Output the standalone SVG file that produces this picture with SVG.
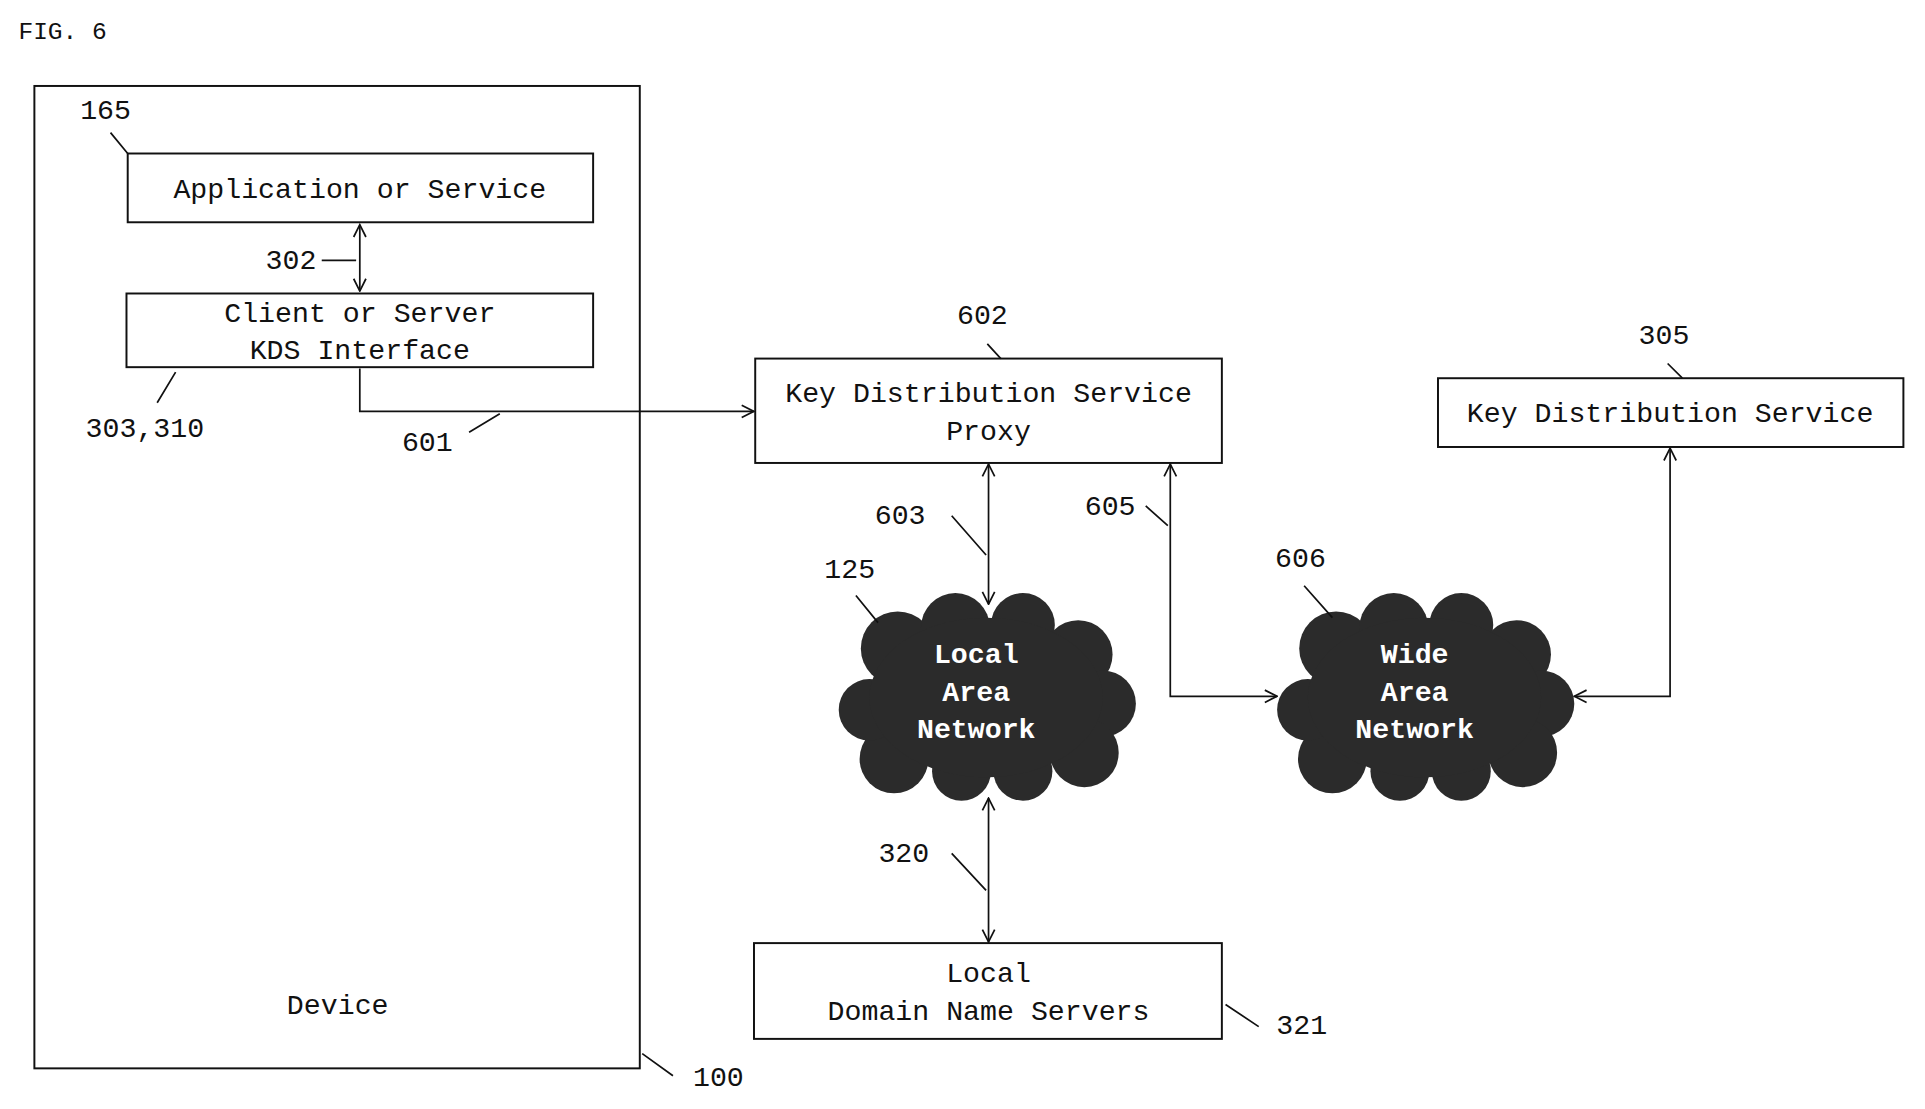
<svg xmlns="http://www.w3.org/2000/svg" width="1925" height="1109" viewBox="0 0 1925 1109">
<defs>
<style>
text{font-family:"Liberation Mono","DejaVu Sans Mono",monospace;font-size:23px;fill:#111;text-anchor:middle}
.l{text-anchor:start}
.box{fill:#fff;stroke:#111;stroke-width:1.6}
.ln{fill:none;stroke:#111;stroke-width:1.4}
.w{fill:#fff;font-weight:bold}
</style>
<marker id="a" viewBox="0 0 12 12" refX="11" refY="6" markerWidth="12" markerHeight="12" markerUnits="userSpaceOnUse" orient="auto-start-reverse">
<path d="M1,1 L11,6 L1,11" fill="none" stroke="#111" stroke-width="1.4"/>
</marker>
<g id="cloud" fill="#2b2b2b">
<circle cx="48" cy="45" r="30"/><circle cx="95" cy="28" r="28"/><circle cx="150" cy="26" r="26"/><circle cx="195" cy="50" r="28"/>
<circle cx="215" cy="90" r="27"/><circle cx="200" cy="130" r="28"/><circle cx="150" cy="145" r="24"/><circle cx="100" cy="145" r="24"/>
<circle cx="45" cy="135" r="28"/><circle cx="25" cy="95" r="25"/><ellipse cx="120" cy="85" rx="95" ry="65"/>
</g>
</defs>
<rect width="1925" height="1109" fill="#fff"/>
<g transform="scale(1.228)">
<text class="l" x="15" y="32" style="font-size:20px">FIG. 6</text>
<g id="device"><rect class="box" x="28" y="70" width="493" height="800"/><text x="275" y="826">Device</text></g>
<g id="app"><rect class="box" x="104" y="125" width="379" height="56"/><text x="293" y="161">Application or Service</text></g>
<g id="client"><rect class="box" x="103" y="239" width="380" height="60"/><text x="293" y="262">Client or Server</text><text x="293" y="292">KDS Interface</text></g>
<g id="proxy"><rect class="box" x="615" y="292" width="380" height="85"/><text x="805" y="327">Key Distribution Service</text><text x="805" y="358">Proxy</text></g>
<g id="kds"><rect class="box" x="1171" y="308" width="379" height="56"/><text x="1360" y="344">Key Distribution Service</text></g>
<g id="dns"><rect class="box" x="614" y="768" width="381" height="78"/><text x="805" y="800">Local</text><text x="805" y="831">Domain Name Servers</text></g>
<g id="lan"><use href="#cloud" x="683" y="483"/><text class="w" x="795" y="540">Local</text><text class="w" x="795" y="571">Area</text><text class="w" x="795" y="601">Network</text></g>
<g id="wan"><use href="#cloud" x="1040" y="483"/><text class="w" x="1152" y="540">Wide</text><text class="w" x="1152" y="571">Area</text><text class="w" x="1152" y="601">Network</text></g>
<g id="connectors">
<path class="ln" d="M293,183 V237" marker-start="url(#a)" marker-end="url(#a)"/>
<path class="ln" d="M293,300 V335 H614" marker-end="url(#a)"/>
<path class="ln" d="M805,378 V492" marker-start="url(#a)" marker-end="url(#a)"/>
<path class="ln" d="M953,378 V567 H1040" marker-start="url(#a)" marker-end="url(#a)"/>
<path class="ln" d="M1360,365 V567 H1282" marker-start="url(#a)" marker-end="url(#a)"/>
<path class="ln" d="M805,650 V767" marker-start="url(#a)" marker-end="url(#a)"/>
<path class="ln" d="M90,108 L104,125 M262,212 H290 M128,328 L143,303 M382,352 L407,337 M804,280 L815,292 M1358,296 L1370,308 M775,420 L803,452 M933,412 L951,428 M697,485 L715,507 M1062,477 L1085,503 M775,695 L803,725 M998,818 L1025,836 M523,858 L548,876"/>
</g>
<g id="labels">
<text x="86" y="97">165</text><text x="237" y="219">302</text><text x="118" y="356">303,310</text><text x="348" y="367">601</text>
<text x="800" y="264">602</text><text x="1355" y="280">305</text><text x="733" y="427">603</text><text x="904" y="419">605</text>
<text x="692" y="471">125</text><text x="1059" y="462">606</text><text x="736" y="702">320</text><text x="1060" y="842">321</text><text x="585" y="884">100</text>
</g>
</g>
</svg>
